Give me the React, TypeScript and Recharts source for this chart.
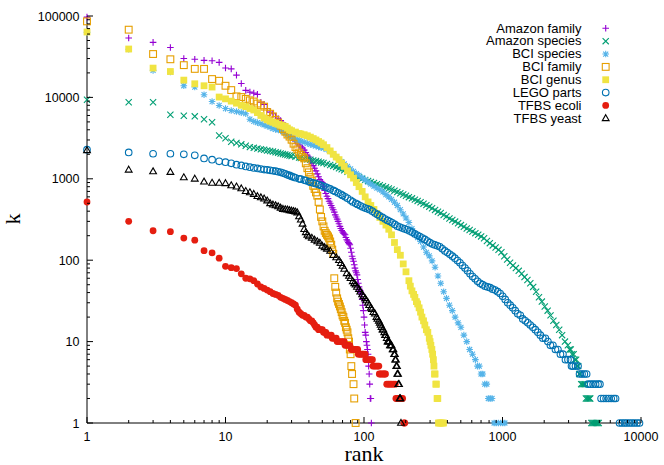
import React from "react";
import { ScatterChart, Scatter, XAxis, YAxis } from "recharts";

const W = 664;
const H = 465;

// rank-abundance readings: [rank, k]
const amazonFamily: [number, number][] = [
  [1, 97000], [2, 53700], [3, 47400], [4, 41100], [5, 30100], [6, 29400], [7, 28500], [8, 28200],
  [9, 26900], [10, 23000], [11, 22400], [12, 18800], [13, 14800], [14, 12200], [15, 11600], [16, 11300],
  [17, 10900], [18, 8700], [19, 8200], [20, 7300], [21, 6600], [22, 6300], [23, 5800], [24, 5500],
  [25, 5200], [26, 4800], [27, 4500], [28, 4100], [29, 3700], [30, 3350], [31, 3100], [32, 2900],
  [33, 2750], [34, 2600], [35, 2480], [36, 2380], [37, 2250], [38, 2100], [39, 1950], [40, 1850],
  [41, 1700], [42, 1560], [43, 1450], [44, 1350], [45, 1250], [46, 1150], [47, 1060], [48, 980],
  [49, 930], [50, 900], [51, 800], [52, 720], [53, 660], [54, 610], [55, 570], [56, 530], [57, 500],
  [58, 470], [59, 440], [60, 417], [61, 390], [62, 360], [63, 340], [64, 320], [65, 300], [66, 280],
  [67, 260], [68, 245], [69, 232], [70, 222], [71, 215], [72, 210], [73, 205], [74, 190], [75, 178],
  [76, 172], [77, 165], [78, 160], [79, 155], [80, 140], [81, 125], [82, 112], [83, 104], [84, 97],
  [85, 88], [86, 80], [87, 74], [88, 70], [89, 66], [90, 58], [91, 52], [92, 47], [93, 44], [94, 42],
  [95, 40], [96, 38], [97, 33], [98, 28], [99, 24], [100, 20], [101, 16], [102, 13], [103, 12],
  [104, 10], [105, 9], [106, 8], [107, 7], [108, 5], [109, 4], [110, 3], [111, 2], [112, 2], [113, 1],
];

const amazonSpecies: [number, number][] = [
  [1, 9370], [2, 8700], [3, 8700], [4, 6130], [5, 5960], [6, 5850], [7, 5400], [8, 4950], [9, 3400],
  [10, 3150], [11, 2850], [12, 2750], [13, 2650], [14, 2550], [15, 2450], [16, 2400], [17, 2350],
  [18, 2300], [19, 2270], [20, 2230], [21, 2200], [22, 2160], [23, 2120], [24, 2090], [25, 2050],
  [26, 2020], [27, 1990], [28, 1960], [29, 1930], [30, 1900], [32, 1860], [34, 1820], [35, 1800],
  [37, 1770], [39, 1740], [41, 1710], [43, 1680], [45, 1650], [47, 1620], [49, 1590], [51, 1560],
  [54, 1520], [57, 1480], [60, 1440], [63, 1400], [66, 1350], [69, 1310], [72, 1270], [76, 1220],
  [80, 1170], [84, 1120], [88, 1080], [92, 1040], [97, 1000], [102, 970], [107, 940], [112, 915],
  [118, 888], [124, 860], [130, 835], [137, 810], [144, 785], [151, 760], [158, 738], [166, 715],
  [174, 690], [183, 665], [192, 640], [201, 620], [211, 595], [222, 575], [233, 555], [244, 535],
  [256, 515], [269, 495], [282, 475], [296, 455], [310, 435], [326, 415], [342, 395], [358, 380],
  [376, 360], [394, 345], [414, 325], [434, 312], [455, 298], [478, 285], [501, 270], [526, 258],
  [552, 245], [579, 235], [607, 225], [637, 215], [668, 205], [701, 196], [736, 186], [772, 172],
  [810, 162], [850, 152], [892, 143], [936, 134], [982, 125], [1030, 112], [1081, 102], [1134, 93],
  [1190, 86], [1249, 80], [1310, 74], [1375, 68], [1442, 62], [1513, 57], [1588, 52], [1666, 47],
  [1748, 41], [1834, 35], [1924, 31], [2019, 27], [2118, 24], [2222, 21], [2332, 18], [2446, 16],
  [2567, 14], [2693, 12], [2826, 10], [2965, 9], [3050, 8], [3111, 8], [3180, 7], [3264, 7],
  [3330, 6], [3400, 6], [3450, 5], [3520, 5], [3580, 4], [3640, 4], [3700, 3], [3780, 3], [3860, 3],
  [3940, 3], [4000, 2], [4080, 2], [4160, 2], [4240, 2], [4300, 2], [4380, 1], [4460, 1], [4540, 1],
  [4620, 1], [4700, 1], [4780, 1], [4860, 1], [4950, 1],
];

const bciSpecies: [number, number][] = [
  [1, 63000], [2, 39000], [3, 21500], [4, 20500], [5, 13900], [6, 13400], [7, 10800], [8, 8900],
  [9, 7960], [10, 7300], [11, 6900], [12, 6700], [13, 6500], [14, 6300], [15, 5400], [16, 5070],
  [17, 4900], [18, 4750], [19, 4600], [20, 4450], [21, 4300], [22, 4150], [23, 4050], [24, 4000],
  [25, 3900], [26, 3800], [27, 3650], [28, 3500], [29, 3350], [30, 3250], [31, 3150], [32, 3080],
  [33, 3000], [34, 2950], [35, 2900], [37, 2820], [39, 2730], [41, 2650], [43, 2590], [45, 2530],
  [47, 2470], [49, 2420], [51, 2380], [54, 2300], [57, 2180], [60, 2000], [63, 1850], [66, 1720],
  [69, 1620], [72, 1520], [76, 1420], [80, 1320], [84, 1230], [88, 1160], [92, 1100], [97, 1030],
  [102, 970], [107, 910], [112, 860], [118, 810], [124, 770], [130, 735], [137, 690], [144, 640],
  [151, 600], [158, 560], [166, 515], [174, 470], [183, 417], [192, 370], [201, 330], [211, 290],
  [222, 245], [233, 210], [244, 190], [256, 170], [269, 145], [282, 125], [296, 113], [310, 98],
  [326, 82], [342, 64], [358, 52], [376, 41], [394, 34], [414, 28], [434, 24], [455, 20], [478, 17],
  [501, 15], [526, 12], [552, 10], [579, 8], [607, 7], [637, 6], [660, 5], [680, 5], [700, 4],
  [720, 4], [745, 3], [770, 3], [790, 2], [815, 2], [840, 2], [870, 1], [900, 1], [935, 1], [970, 1],
  [1005, 1], [1040, 1],
];

const bciFamily: [number, number][] = [
  [1, 85900], [2, 67900], [3, 34100], [4, 29400], [5, 24900], [6, 22400], [7, 22400], [8, 16800],
  [9, 16000], [10, 13900], [11, 12300], [12, 10300], [13, 10100], [14, 9600], [15, 9200], [16, 8900],
  [17, 8400], [18, 8000], [19, 7700], [20, 6600], [21, 6300], [22, 5850], [23, 5300], [24, 4900],
  [25, 4500], [26, 4100], [27, 3800], [28, 3500], [29, 3300], [30, 3020], [31, 2700], [32, 2450],
  [33, 2300], [34, 2100], [35, 1970], [36, 1850], [37, 1780], [38, 1550], [39, 1350], [40, 1200],
  [41, 1050], [42, 950], [43, 820], [44, 750], [45, 680], [46, 620], [47, 520], [48, 420], [49, 340],
  [50, 300], [51, 260], [52, 230], [53, 215], [54, 205], [55, 196], [56, 185], [57, 170], [58, 155],
  [59, 135], [60, 120], [61, 60], [62, 47], [63, 40], [64, 34], [65, 31], [66, 29], [67, 27],
  [68, 25], [69, 23], [70, 21], [71, 20], [72, 18], [73, 17], [74, 15], [75, 14], [76, 13], [77, 11],
  [78, 10], [79, 8], [80, 7], [81, 5], [82, 4], [84, 3], [85, 2], [87, 1],
];

const bciGenus: [number, number][] = [
  [1, 63600], [2, 39300], [3, 22900], [4, 20800], [5, 16300], [6, 14700], [7, 13900], [8, 13400],
  [9, 10100], [10, 9600], [11, 9000], [12, 8500], [13, 8000], [14, 7700], [15, 7300], [16, 7000],
  [17, 6500], [18, 6000], [19, 5600], [20, 5300], [21, 5100], [22, 4950], [23, 4800], [24, 4680],
  [25, 4550], [26, 4470], [27, 4400], [28, 4200], [29, 4000], [30, 3900], [32, 3750], [34, 3600],
  [35, 3550], [37, 3480], [39, 3380], [41, 3250], [43, 3120], [45, 3000], [47, 2870], [49, 2750],
  [51, 2620], [54, 2420], [57, 2200], [60, 2000], [63, 1850], [66, 1720], [69, 1560], [72, 1420],
  [76, 1250], [80, 1120], [84, 1020], [88, 900], [92, 800], [97, 700], [102, 600], [107, 520],
  [112, 470], [118, 420], [124, 375], [130, 335], [137, 300], [144, 270], [151, 240], [158, 205],
  [166, 165], [174, 135], [183, 115], [192, 90], [201, 72], [211, 56], [216, 48], [222, 42],
  [228, 38], [233, 35], [239, 31], [244, 29], [250, 26], [256, 23], [262, 20], [269, 18], [275, 16],
  [282, 14], [289, 13], [296, 11], [300, 10], [304, 9], [309, 8], [313, 7], [317, 6], [320, 5],
  [323, 4], [326, 4], [330, 3], [333, 3], [337, 2], [341, 2], [345, 1], [352, 1], [359, 1], [367, 1],
  [375, 1],
];

const legoParts: [number, number][] = [
  [1, 2280], [2, 2110], [3, 2030], [4, 2030], [5, 2000], [6, 1940], [7, 1780], [8, 1720], [9, 1640],
  [10, 1600], [11, 1550], [12, 1490], [13, 1460], [14, 1420], [15, 1390], [16, 1360], [17, 1340],
  [18, 1320], [19, 1300], [20, 1290], [21, 1270], [22, 1255], [23, 1240], [24, 1220], [25, 1200],
  [26, 1175], [27, 1150], [28, 1120], [29, 1100], [30, 1070], [31, 1050], [32, 1030], [34, 1000],
  [35, 990], [37, 965], [38, 950], [40, 925], [41, 910], [43, 890], [45, 870], [47, 850], [49, 830],
  [51, 810], [53, 790], [55, 770], [57, 750], [60, 720], [62, 700], [65, 670], [68, 645], [70, 625],
  [73, 600], [76, 575], [80, 545], [83, 520], [87, 500], [90, 485], [94, 465], [98, 450], [102, 437],
  [106, 428], [110, 417], [115, 400], [120, 380], [125, 365], [130, 350], [136, 335], [142, 320],
  [148, 308], [154, 298], [160, 288], [167, 275], [174, 262], [181, 255], [189, 248], [197, 242],
  [205, 236], [214, 228], [223, 220], [233, 210], [243, 202], [253, 195], [264, 187], [275, 180],
  [287, 172], [299, 164], [312, 158], [325, 154], [339, 150], [353, 146], [368, 138], [384, 130],
  [400, 124], [417, 118], [435, 112], [453, 106], [473, 99], [493, 93], [514, 86], [536, 80],
  [559, 74], [583, 68], [608, 63], [634, 59], [661, 55], [689, 52], [718, 50], [749, 48], [781, 47],
  [814, 46], [849, 44], [885, 43], [923, 41], [962, 39], [1003, 36], [1046, 33], [1091, 30],
  [1137, 28], [1186, 26], [1236, 24], [1289, 22], [1344, 21], [1401, 19], [1461, 18], [1523, 17],
  [1588, 16], [1656, 15], [1726, 14], [1800, 13], [1877, 12], [1957, 11], [2040, 11], [2127, 10],
  [2218, 9], [2312, 9], [2411, 8], [2513, 8], [2620, 7], [2732, 7], [2849, 6], [2970, 6], [3097, 6],
  [3150, 5], [3229, 5], [3366, 5], [3510, 5], [3600, 4], [3750, 4], [3900, 4], [4050, 4], [4150, 3],
  [4330, 3], [4510, 3], [4700, 3], [4900, 3], [5050, 3], [5150, 2], [5370, 2], [5600, 2], [5840, 2],
  [6090, 2], [6350, 2], [6550, 2], [7000, 1], [7300, 1], [7600, 1], [7900, 1], [8250, 1], [8600, 1],
  [8950, 1], [9350, 1], [9750, 1],
];

const tfbsEcoli: [number, number][] = [
  [1, 519], [2, 300], [3, 230], [4, 224], [5, 187], [6, 176], [7, 131], [8, 123], [9, 106], [10, 84],
  [11, 81], [12, 79], [13, 68], [14, 60], [15, 59], [16, 56], [17, 51], [18, 47], [19, 45], [20, 43],
  [21, 41], [22, 39], [23, 38], [24, 37], [25, 35], [26, 34], [27, 33], [28, 32], [29, 31], [30, 30],
  [31, 29], [32, 28], [33, 25], [34, 23], [35, 22], [36, 21], [37, 21], [38, 20], [39, 20], [40, 19],
  [41, 18], [42, 18], [43, 17], [44, 16], [45, 15], [46, 15], [47, 14], [48, 14], [49, 14], [50, 14],
  [51, 13], [52, 13], [53, 13], [54, 12], [56, 12], [58, 12], [59, 11], [61, 11], [63, 11], [64, 10],
  [66, 10], [68, 10], [70, 10], [72, 10], [73, 9], [75, 9], [77, 9], [79, 9], [81, 8], [83, 8],
  [85, 8], [87, 8], [90, 8], [91, 7], [93, 7], [95, 7], [97, 7], [99, 7], [102, 7], [103, 6],
  [106, 6], [109, 6], [112, 6], [115, 6], [116, 5], [119, 5], [122, 5], [125, 5], [128, 5], [129, 4],
  [132, 4], [135, 4], [138, 4], [141, 4], [143, 4], [146, 3], [150, 3], [154, 3], [158, 3], [163, 3],
  [168, 3], [170, 2], [175, 2], [180, 2], [185, 2], [190, 2], [194, 1], [197, 1],
];

const tfbsYeast: [number, number][] = [
  [1, 2240], [2, 1290], [3, 1230], [4, 1210], [5, 1040], [6, 1000], [7, 920], [8, 890], [9, 890],
  [10, 880], [11, 830], [12, 800], [13, 760], [14, 705], [15, 680], [16, 650], [17, 610], [18, 590],
  [19, 570], [20, 540], [21, 500], [22, 480], [23, 470], [24, 458], [25, 440], [26, 425], [27, 420],
  [28, 417], [29, 410], [30, 405], [31, 400], [32, 395], [33, 385], [34, 345], [35, 315], [36, 280],
  [37, 240], [38, 220], [39, 205], [40, 196], [42, 188], [44, 178], [46, 170], [48, 163], [50, 150],
  [52, 144], [54, 138], [57, 130], [60, 115], [63, 108], [66, 100], [68, 92], [70, 85], [72, 78],
  [75, 69], [78, 64], [80, 60], [83, 55], [85, 52], [87, 50], [89, 47], [92, 44], [94, 41], [97, 38],
  [99, 36], [102, 34], [104, 32], [107, 30], [109, 28], [112, 26], [114, 25], [117, 23], [120, 22],
  [123, 20], [125, 19], [128, 18], [130, 17], [132, 16], [134, 15], [136, 14], [138, 14], [140, 13],
  [142, 12], [144, 12], [146, 11], [148, 10], [150, 10], [152, 10], [154, 9], [156, 9], [158, 9],
  [161, 8], [163, 8], [165, 7], [167, 7], [168, 6], [170, 6], [171, 5], [173, 5], [174, 4], [176, 4],
  [177, 3], [179, 3], [181, 2], [183, 2], [185, 1],
];

const SERIES = [
  { name: "Amazon family", data: amazonFamily, color: "#9400d3", marker: "plus" },
  { name: "Amazon species", data: amazonSpecies, color: "#009e73", marker: "cross" },
  { name: "BCI species", data: bciSpecies, color: "#56b4e9", marker: "star" },
  { name: "BCI family", data: bciFamily, color: "#e69f00", marker: "square" },
  { name: "BCI genus", data: bciGenus, color: "#f0e442", marker: "fsquare" },
  { name: "LEGO parts", data: legoParts, color: "#0072b2", marker: "circle" },
  { name: "TFBS ecoli", data: tfbsEcoli, color: "#e51e10", marker: "fcircle" },
  { name: "TFBS yeast", data: tfbsYeast, color: "#000000", marker: "triangle" },
];

const X_MAJOR = [1, 10, 100, 1000, 10000];
const Y_MAJOR = [1, 10, 100, 1000, 10000, 100000];
const MINOR = [2, 3, 4, 5, 6, 7, 8, 9];

const withMinor = (major: number[]) =>
  major.flatMap((m, i) => (i < major.length - 1 ? [m, ...MINOR.map((s) => m * s)] : [m]));

const X_TICKS = withMinor(X_MAJOR);
const Y_TICKS = withMinor(Y_MAJOR);

const SANS = "'Liberation Sans', Arial, sans-serif";
const SERIF = "'Liberation Serif', 'Times New Roman', serif";
const AXIS = { stroke: "#000", strokeWidth: 1 };

const Marker = ({ kind, cx, cy, color }: { kind: string; cx: number; cy: number; color: string }) => {
  const s = { stroke: color, strokeWidth: 1.1, fill: "none" };
  switch (kind) {
    case "plus":
      return <path d={`M${cx - 3.3},${cy}h6.6M${cx},${cy - 3.3}v6.6`} {...s} />;
    case "cross":
      return <path d={`M${cx - 3.1},${cy - 3.1}l6.2,6.2M${cx - 3.1},${cy + 3.1}l6.2,-6.2`} {...s} />;
    case "star":
      return (
        <path
          d={`M${cx - 3.3},${cy}h6.6M${cx},${cy - 3.3}v6.6M${cx - 2.5},${cy - 2.5}l5,5M${cx - 2.5},${cy + 2.5}l5,-5`}
          {...s}
        />
      );
    case "square":
      return <rect x={cx - 3.4} y={cy - 3.4} width={6.8} height={6.8} {...s} />;
    case "fsquare":
      return <rect x={cx - 3.4} y={cy - 3.4} width={6.8} height={6.8} fill={color} />;
    case "circle":
      return <circle cx={cx} cy={cy} r={3.3} {...s} />;
    case "fcircle":
      return <circle cx={cx} cy={cy} r={3.4} fill={color} />;
    default:
      return <path d={`M${cx},${cy - 3.6}L${cx + 3.4},${cy + 2.3}L${cx - 3.4},${cy + 2.3}Z`} {...s} />;
  }
};

const BottomTick = ({ x, y, payload }: any) => {
  const major = X_MAJOR.includes(payload.value);
  return (
    <g>
      <line x1={x} y1={y} x2={x} y2={y - (major ? 6 : 3)} stroke="#000" />
      {major && (
        <text x={x} y={y + 17.5} textAnchor="middle" fontFamily={SANS} fontSize={12.5} fill="#000">
          {payload.value}
        </text>
      )}
    </g>
  );
};

const TopTick = ({ x, y, payload }: any) => (
  <line x1={x} y1={y} x2={x} y2={y + (X_MAJOR.includes(payload.value) ? 6 : 3)} stroke="#000" />
);

const LeftTick = ({ x, y, payload }: any) => {
  const major = Y_MAJOR.includes(payload.value);
  return (
    <g>
      <line x1={x} y1={y} x2={x + (major ? 6 : 3)} y2={y} stroke="#000" />
      {major && (
        <text x={x - 7.5} y={y + 4.5} textAnchor="end" fontFamily={SANS} fontSize={12.5} fill="#000">
          {payload.value}
        </text>
      )}
    </g>
  );
};

const RightTick = ({ x, y, payload }: any) => (
  <line x1={x} y1={y} x2={x - (Y_MAJOR.includes(payload.value) ? 6 : 3)} y2={y} stroke="#000" />
);

export default function App() {
  return (
    <div style={{ position: "absolute", left: 0, top: 0, width: W, height: H, background: "#fff" }}>
      <ScatterChart width={W} height={H} margin={{ top: 16, right: 23, bottom: 0, left: 0 }}>
        <XAxis
          dataKey="r"
          type="number"
          scale="log"
          domain={[1, 10000]}
          ticks={X_TICKS}
          interval={0}
          height={42}
          tickSize={0}
          tickMargin={0}
          tickLine={false}
          axisLine={AXIS}
          tick={<BottomTick />}
        />
        <XAxis
          xAxisId="top"
          orientation="top"
          dataKey="r"
          type="number"
          scale="log"
          domain={[1, 10000]}
          ticks={X_TICKS}
          interval={0}
          height={0}
          tickSize={0}
          tickMargin={0}
          tickLine={false}
          axisLine={AXIS}
          tick={<TopTick />}
        />
        <YAxis
          dataKey="k"
          type="number"
          scale="log"
          domain={[1, 100000]}
          ticks={Y_TICKS}
          interval={0}
          width={87}
          tickSize={0}
          tickMargin={0}
          tickLine={false}
          axisLine={AXIS}
          tick={<LeftTick />}
        />
        <YAxis
          yAxisId="right"
          orientation="right"
          dataKey="k"
          type="number"
          scale="log"
          domain={[1, 100000]}
          ticks={Y_TICKS}
          interval={0}
          width={0}
          tickSize={0}
          tickMargin={0}
          tickLine={false}
          axisLine={AXIS}
          tick={<RightTick />}
        />
        {SERIES.map((s) => (
          <Scatter
            key={s.name}
            name={s.name}
            data={s.data.map(([r, k]) => ({ r, k }))}
            isAnimationActive={false}
            shape={(p: any) => <Marker kind={s.marker} cx={p.cx} cy={p.cy} color={s.color} />}
          />
        ))}
      </ScatterChart>
      <svg
        width={W}
        height={H}
        style={{ position: "absolute", left: 0, top: 0, pointerEvents: "none" }}
      >
        {SERIES.map((s, i) => (
          <g key={s.name}>
            <text
              x={581.5}
              y={32.6 + i * 12.86}
              textAnchor="end"
              fontFamily={SANS}
              fontSize={13}
              fill="#000"
            >
              {s.name}
            </text>
            <Marker kind={s.marker} cx={605.7} cy={28.3 + i * 12.86} color={s.color} />
          </g>
        ))}
        <text x={364} y={460.5} textAnchor="middle" fontFamily={SERIF} fontSize={22} fill="#000">
          rank
        </text>
        <text
          x={20}
          y={219}
          transform="rotate(-90 20 219)"
          textAnchor="middle"
          fontFamily={SERIF}
          fontSize={22}
          fill="#000"
        >
          k
        </text>
      </svg>
    </div>
  );
}
